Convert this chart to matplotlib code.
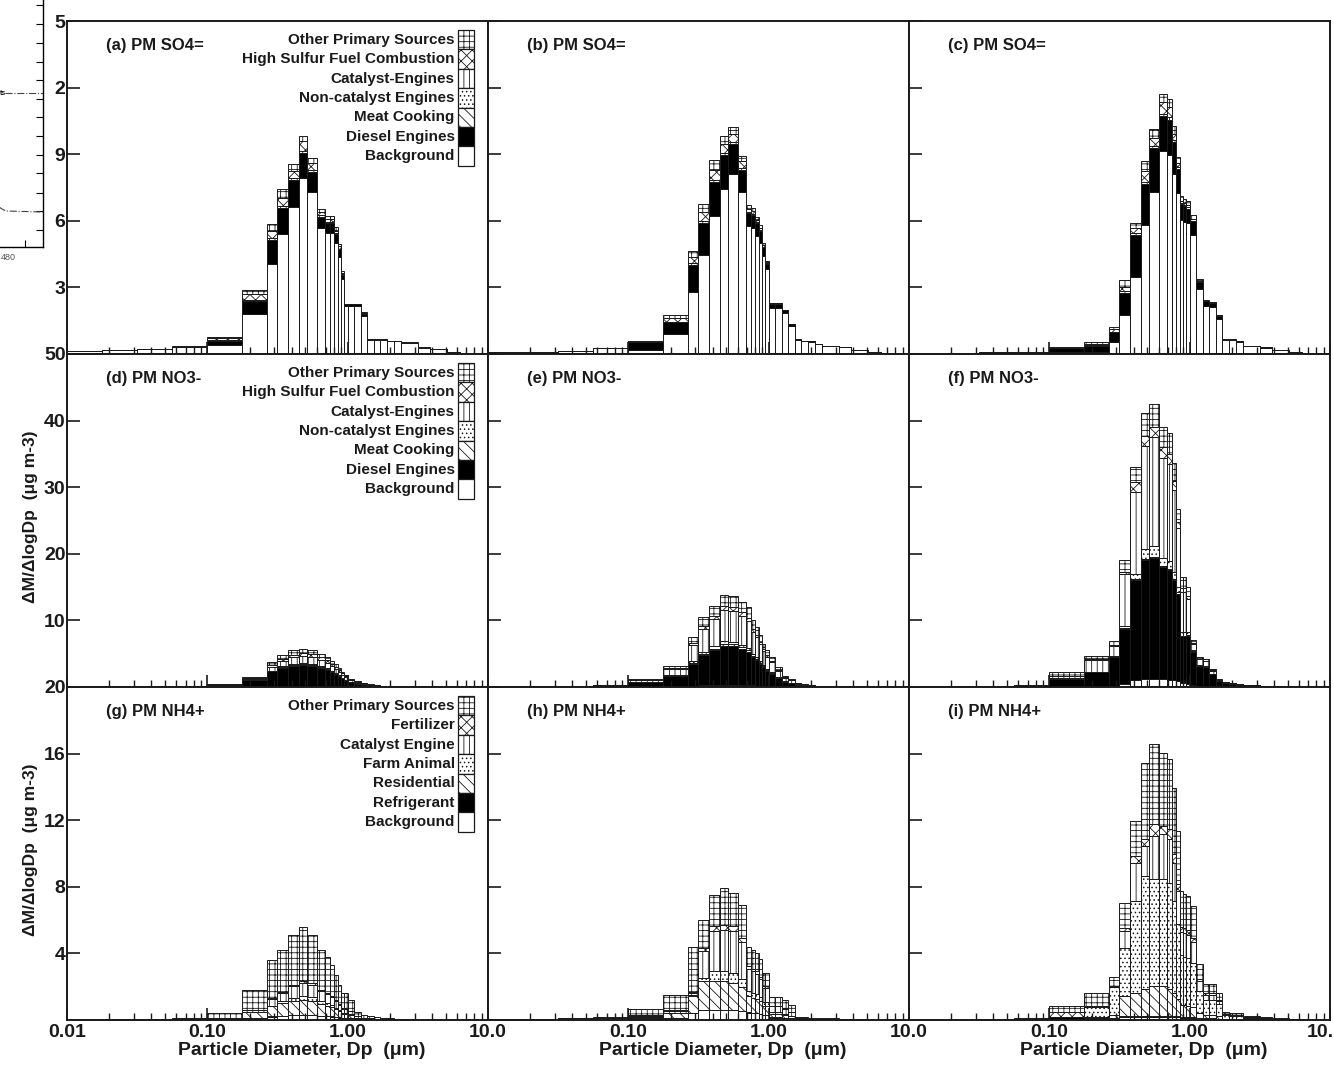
import numpy as np
import matplotlib
matplotlib.use("Agg")
import matplotlib.pyplot as plt
from matplotlib.patches import Rectangle
from matplotlib.ticker import FixedLocator, LogLocator, NullFormatter

plt.rcParams['font.family'] = ['Liberation Sans', 'DejaVu Sans']
plt.rcParams['font.weight'] = 'bold'
plt.rcParams['hatch.linewidth'] = 0.6
INK = '#1a1a1a'

# size-section edges (um)
edges = [0.01, 0.0178, 0.0316, 0.0562, 0.1, 0.178, 0.266, 0.316, 0.376, 0.447, 0.513,
         0.603, 0.692, 0.75, 0.80, 0.85, 0.90, 0.944, 1.01, 1.11, 1.24, 1.38, 1.55,
         1.70, 1.91, 2.14, 2.40, 3.16, 3.89, 5.13, 6.31, 10.0]

# ---- (a) PM SO4=
a_bg = [0.15,0.20,0.22,0.30,0.42,1.80,4.06,5.42,6.61,7.94,7.30,5.67,5.45,5.45,5.00,4.37,3.36,2.16,2.16,2.16,1.72,0.63,0.63,0.63,0.57,0.57,0.50,0.29,0.21,0.07,0.03]
a_diesel = [0,0,0,0.03,0.18,0.60,1.06,1.15,1.23,1.12,0.90,0.52,0.45,0.45,0.40,0.35,0.22,0.08,0.08,0.08,0.10,0.02,0.02,0.02,0.01,0.01,0.01,0,0,0,0]
a_catalyst = [0,0,0,0,0.03,0.05,0.10,0.10,0.10,0.10,0.10,0.05,0.05,0.05,0.04,0.03,0.02,0.01,0.01,0.01,0.01,0,0,0,0,0,0,0,0,0,0]
a_hsf = [0,0,0,0,0.08,0.25,0.33,0.37,0.29,0.42,0.30,0.15,0.15,0.15,0.12,0.10,0.06,0.01,0.01,0.01,0.02,0.01,0.01,0.01,0,0,0,0,0,0,0]
a_other = [0,0,0,0.02,0.07,0.18,0.32,0.39,0.35,0.23,0.25,0.15,0.12,0.12,0.14,0.11,0.07,0.01,0.01,0.01,0.02,0.01,0.01,0.01,0.02,0.02,0.01,0.01,0.01,0,0]

# ---- (b) PM SO4=
b_bg = [0.08,0.10,0.14,0.25,0.20,0.90,2.79,4.45,6.22,7.43,8.09,7.28,5.78,5.67,5.30,5.00,4.40,3.85,2.06,2.06,1.85,1.28,0.63,0.57,0.55,0.44,0.36,0.30,0.20,0.10,0.04]
b_diesel = [0,0,0.01,0.02,0.33,0.52,1.20,1.45,1.54,1.53,1.39,1.03,0.56,0.60,0.60,0.55,0.40,0.22,0.20,0.20,0.12,0.07,0.03,0.02,0.02,0.01,0.01,0,0,0,0]
b_catalyst = [0,0,0,0,0.01,0.04,0.09,0.09,0.09,0.09,0.09,0.09,0.05,0.05,0.04,0.04,0.03,0.02,0.01,0.01,0.01,0,0,0,0,0,0,0,0,0,0]
b_hsf = [0,0,0,0,0.01,0.14,0.30,0.40,0.45,0.40,0.35,0.30,0.12,0.10,0.09,0.08,0.06,0.04,0.02,0.02,0.01,0.01,0,0,0,0,0,0,0,0,0]
b_other = [0,0,0,0,0.02,0.14,0.28,0.35,0.42,0.36,0.29,0.22,0.20,0.17,0.15,0.14,0.10,0.05,0.02,0.02,0.01,0.01,0.01,0.01,0,0,0,0,0,0,0]

# ---- (c) PM SO4=
c_bg = [0.05,0.05,0.06,0.08,0.07,0.10,0.52,1.76,3.46,5.82,7.28,9.13,8.96,8.13,7.24,6.04,5.95,5.90,5.37,2.91,2.16,2.10,1.57,0.62,0.62,0.56,0.35,0.29,0.20,0.10,0.05]
c_diesel = [0,0,0.01,0.02,0.20,0.27,0.45,1.00,1.90,1.85,2.00,1.60,1.60,1.40,1.10,0.70,0.70,0.65,0.60,0.35,0.22,0.20,0.15,0.03,0.03,0.02,0.01,0.01,0,0,0]
c_catalyst = [0,0,0,0,0,0.02,0.04,0.08,0.07,0.09,0.10,0.10,0.10,0.10,0.08,0.05,0.05,0.05,0.04,0.02,0.01,0.01,0.01,0,0,0,0,0,0,0,0]
c_hsf = [0,0,0,0,0.01,0.05,0.10,0.20,0.25,0.50,0.35,0.50,0.45,0.30,0.20,0.10,0.09,0.09,0.08,0.03,0.01,0.01,0.01,0,0,0,0,0,0,0,0]
c_other = [0,0,0,0,0.02,0.08,0.10,0.30,0.20,0.45,0.40,0.40,0.37,0.32,0.24,0.22,0.20,0.20,0.17,0.05,0.03,0.02,0.02,0.02,0.02,0.02,0.01,0,0,0,0]

# ---- (d) PM NO3-
d_bg = [0.01,0.01,0.01,0.02,0.05,0.10,0.15,0.20,0.20,0.20,0.20,0.20,0.18,0.16,0.14,0.12,0.10,0.08,0.05,0.04,0.03,0.02,0.02,0.01,0.01,0.01,0,0,0,0,0]
d_diesel = [0.01,0.02,0.03,0.06,0.30,0.90,2.20,2.70,3.00,3.10,3.00,2.70,2.40,2.10,1.80,1.50,1.20,0.95,0.65,0.45,0.30,0.20,0.15,0.10,0.08,0.05,0.04,0.03,0.02,0.01,0.01]
d_meat = [0,0,0,0,0.01,0.02,0.05,0.08,0.10,0.10,0.10,0.10,0.08,0.07,0.06,0.05,0.04,0.03,0.02,0.02,0.01,0,0,0,0,0,0,0,0,0,0]
d_noncat = [0,0,0,0,0.01,0.02,0.05,0.12,0.15,0.18,0.18,0.16,0.14,0.12,0.10,0.08,0.07,0.05,0.04,0.03,0.02,0.01,0,0,0,0,0,0,0,0,0]
d_catalyst = [0,0,0,0.01,0.05,0.20,0.60,0.80,1.00,1.05,1.05,0.95,0.85,0.75,0.65,0.55,0.45,0.35,0.23,0.18,0.12,0.08,0.06,0.04,0.03,0.02,0.02,0.01,0,0,0]
d_hsf = [0,0,0,0,0.03,0.10,0.30,0.35,0.40,0.42,0.42,0.37,0.33,0.30,0.25,0.20,0.17,0.13,0.09,0.07,0.05,0.03,0.02,0.02,0.01,0,0,0,0,0,0]
d_other = [0,0,0.01,0.01,0.05,0.20,0.45,0.55,0.65,0.65,0.65,0.55,0.50,0.45,0.40,0.33,0.28,0.22,0.15,0.10,0.07,0.05,0.04,0.03,0.02,0.02,0.01,0.01,0.01,0,0]

# ---- (e) PM NO3-
e_bg = [0.01,0.02,0.02,0.03,0.05,0.10,0.20,0.25,0.30,0.30,0.30,0.30,0.28,0.25,0.22,0.20,0.17,0.15,0.12,0.08,0.05,0.03,0.02,0.01,0.01,0.01,0,0,0,0,0]
e_diesel = [0.03,0.06,0.09,0.20,0.70,1.60,3.30,4.50,5.20,5.90,5.80,5.40,5.00,4.20,3.80,3.30,2.80,2.30,1.90,1.25,0.70,0.50,0.25,0.17,0.12,0.08,0.06,0.04,0.03,0.02,0.01]
e_meat = [0,0,0,0,0.02,0.05,0.15,0.20,0.25,0.30,0.30,0.28,0.25,0.20,0.18,0.15,0.13,0.10,0.08,0.05,0.03,0.02,0.01,0.01,0,0,0,0,0,0,0]
e_noncat = [0,0,0,0,0.03,0.08,0.20,0.30,0.35,0.40,0.40,0.38,0.35,0.30,0.27,0.23,0.20,0.16,0.13,0.09,0.05,0.04,0.02,0.01,0.01,0,0,0,0,0,0]
e_catalyst = [0.01,0.01,0.02,0.04,0.20,0.80,2.40,3.50,4.10,4.60,4.60,4.30,4.00,3.30,3.00,2.60,2.15,1.80,1.50,1.00,0.55,0.40,0.20,0.13,0.10,0.06,0.05,0.03,0.02,0.01,0.01]
e_hsf = [0,0,0.01,0.01,0.05,0.15,0.35,0.45,0.50,0.60,0.60,0.55,0.50,0.45,0.40,0.35,0.30,0.25,0.20,0.13,0.07,0.05,0.03,0.02,0.01,0.01,0.01,0,0,0,0]
e_other = [0,0.01,0.03,0.02,0.15,0.42,0.90,1.30,1.50,1.70,1.70,1.59,1.62,1.30,1.13,0.97,0.75,0.74,0.57,0.40,0.25,0.16,0.07,0.05,0.05,0.04,0.03,0.03,0.01,0,0]

# ---- (f) PM NO3-
f_bg = [0.02,0.02,0.03,0.05,0.05,0.10,0.20,0.40,1.00,1.20,1.20,1.20,1.10,1.00,0.90,0.60,0.60,0.50,0.30,0.20,0.20,0.10,0.05,0.03,0.02,0.02,0.01,0.01,0,0,0]
f_diesel = [0.05,0.08,0.10,0.15,1.20,2.10,4.25,8.30,15.00,17.80,18.10,16.80,16.40,15.00,13.10,7.00,7.00,7.20,5.00,3.00,2.80,1.80,0.80,0.55,0.42,0.35,0.22,0.15,0.11,0.07,0.04]
f_meat = [0,0,0,0,0.02,0.05,0.10,0.10,0.20,0.20,0.20,0.20,0.20,0.20,0.20,0.10,0.10,0.10,0.05,0.03,0.03,0.02,0.01,0,0,0,0,0,0,0,0]
f_noncat = [0,0,0,0,0.03,0.05,0.10,0.30,0.75,1.50,1.70,1.20,1.20,1.00,0.80,0.50,0.50,0.40,0.15,0.10,0.10,0.05,0.02,0.02,0.01,0.01,0,0,0,0,0]
f_catalyst = [0.01,0.02,0.03,0.05,0.30,1.75,1.50,7.90,12.30,15.50,16.30,15.00,14.60,12.40,8.80,6.00,6.00,5.00,1.00,0.80,0.70,0.50,0.20,0.12,0.10,0.08,0.05,0.03,0.03,0.02,0.01]
f_hsf = [0,0,0,0,0.10,0.10,0.20,0.30,1.50,1.50,1.50,1.60,1.50,1.30,1.00,0.60,0.60,0.50,0.10,0.07,0.07,0.03,0.02,0.01,0.01,0.01,0,0,0,0,0]
f_other = [0.01,0.02,0.03,0.05,0.60,0.55,0.60,1.70,2.25,3.50,3.50,3.00,3.20,2.80,1.90,1.65,1.65,1.30,0.40,0.30,0.30,0.20,0.10,0.07,0.04,0.03,0.02,0.01,0.01,0.01,0]

# ---- (g) PM NH4+
g_bg = [0.01,0.02,0.03,0.04,0.03,0.10,0.20,0.25,0.30,0.30,0.30,0.25,0.25,0.20,0.18,0.15,0.12,0.12,0.10,0.04,0.03,0.02,0.02,0.01,0.01,0.01,0,0,0,0,0]
g_refrig = [0,0,0,0,0.05,0.02,0.02,0.02,0.02,0.02,0.02,0.02,0.02,0.02,0.02,0.02,0.01,0.01,0.01,0.01,0,0,0,0,0,0,0,0,0,0,0]
g_resid = [0,0,0,0,0.02,0.35,0.60,0.75,0.85,0.90,0.85,0.70,0.60,0.55,0.45,0.35,0.25,0.25,0.20,0.08,0.05,0.03,0.02,0.02,0.01,0.01,0,0,0,0,0]
g_farm = [0,0,0,0,0,0.02,0.05,0.10,0.15,0.20,0.20,0.15,0.15,0.12,0.10,0.08,0.06,0.06,0.04,0.02,0.01,0.01,0,0,0,0,0,0,0,0,0]
g_catalyst = [0,0,0,0,0.02,0.10,0.40,0.50,0.70,0.80,0.75,0.60,0.55,0.50,0.40,0.30,0.25,0.25,0.20,0.08,0.05,0.04,0.03,0.02,0.02,0.01,0.01,0,0,0,0]
g_fert = [0,0,0,0,0,0.01,0.05,0.08,0.10,0.12,0.10,0.08,0.08,0.07,0.05,0.04,0.03,0.03,0.02,0.01,0,0,0,0,0,0,0,0,0,0,0]
g_other = [0.01,0.03,0.05,0.08,0.28,1.20,2.28,2.50,2.98,3.26,2.88,2.40,2.15,1.84,1.50,1.16,0.88,0.88,0.63,0.26,0.16,0.15,0.13,0.10,0.06,0.05,0.04,0.03,0.02,0.01,0.01]

# ---- (h) PM NH4+
h_bg = [0.03,0.05,0.10,0.12,0.05,0.10,0.40,0.60,0.60,0.60,0.60,0.55,0.45,0.40,0.40,0.35,0.30,0.30,0.15,0.15,0.12,0.10,0.03,0.03,0.02,0.02,0.02,0.01,0.01,0,0]
h_refrig = [0.01,0.01,0.02,0.03,0.10,0.05,0.02,0.02,0.02,0.02,0.02,0.02,0.02,0.02,0.02,0.02,0.02,0.02,0.02,0.02,0.02,0.02,0.02,0.02,0.01,0.01,0.01,0.01,0.01,0.01,0]
h_resid = [0,0,0,0,0.05,0.25,1.00,1.70,1.70,1.70,1.60,1.40,1.00,0.90,0.85,0.75,0.55,0.55,0.20,0.20,0.15,0.10,0.03,0.03,0.02,0.02,0.01,0.01,0,0,0]
h_farm = [0,0,0,0,0.02,0.05,0.10,0.20,0.60,0.60,0.60,0.50,0.30,0.30,0.30,0.25,0.20,0.20,0.10,0.10,0.08,0.05,0.01,0.01,0.01,0,0,0,0,0,0]
h_catalyst = [0,0,0,0,0.04,0.10,0.10,1.60,2.40,2.50,2.50,2.20,1.30,1.30,1.20,1.10,0.85,0.85,0.35,0.35,0.30,0.20,0.03,0.03,0.02,0.02,0.01,0.01,0.01,0,0]
h_fert = [0,0,0,0,0.02,0.05,0.05,0.20,0.30,0.30,0.30,0.25,0.15,0.15,0.15,0.13,0.10,0.10,0.05,0.05,0.04,0.03,0,0,0,0,0,0,0,0,0]
h_other = [0.01,0.02,0.03,0.05,0.38,0.90,2.71,1.68,1.88,2.18,1.98,1.98,1.18,1.13,1.08,1.05,0.83,0.83,0.50,0.50,0.49,0.38,0.08,0.08,0.07,0.05,0.05,0.02,0.01,0.01,0.01]

# ---- (i) PM NH4+
i_bg = [0.01,0.01,0.03,0.03,0.02,0.05,0.05,0.20,0.20,0.20,0.20,0.20,0.20,0.20,0.20,0.15,0.15,0.15,0.15,0.10,0.08,0.08,0.05,0.02,0.02,0.02,0.01,0.01,0.01,0,0]
i_refrig = [0.01,0.02,0.04,0.05,0.18,0.10,0.05,0.05,0.05,0.05,0.05,0.05,0.05,0.05,0.05,0.05,0.05,0.05,0.05,0.05,0.05,0.05,0.04,0.03,0.03,0.03,0.02,0.02,0.01,0.01,0.01]
i_resid = [0,0,0,0,0,0.05,0.20,1.20,1.40,1.60,1.80,1.80,1.60,1.40,1.00,0.70,0.70,0.65,0.60,0.30,0.20,0.20,0.15,0.04,0.04,0.04,0.02,0.01,0.01,0,0]
i_farm = [0,0,0,0,0,0.60,1.70,2.90,5.50,6.80,6.40,6.40,6.40,5.50,4.50,3.00,2.90,2.90,2.60,1.30,0.90,0.90,0.70,0.20,0.18,0.18,0.10,0.07,0.05,0.02,0.01]
i_catalyst = [0,0,0,0,0,0,0,1.00,2.30,1.80,2.60,2.70,2.60,2.30,2.00,1.40,1.40,1.35,1.30,0.60,0.30,0.30,0.20,0.05,0.05,0.04,0.02,0.02,0.01,0.01,0]
i_fert = [0,0,0,0,0.30,0.05,0.05,0.15,0.40,0.40,0.70,0.50,0.60,0.50,0.40,0.30,0.30,0.30,0.25,0.10,0.07,0.07,0.05,0.01,0.01,0.01,0,0,0,0,0]
i_other = [0,0,0.01,0.02,0.34,0.80,0.55,1.50,2.10,4.60,4.80,4.40,4.20,4.00,3.20,2.15,2.05,2.05,1.90,0.90,0.55,0.55,0.45,0.12,0.10,0.10,0.05,0.04,0.02,0.02,0.01]

# legend entries, top to bottom
labels_so4 = ['Other Primary Sources', 'High Sulfur Fuel Combustion', 'Catalyst-Engines',
              'Non-catalyst Engines', 'Meat Cooking', 'Diesel Engines', 'Background']
labels_no3 = labels_so4
labels_nh4 = ['Other Primary Sources', 'Fertilizer', 'Catalyst Engine', 'Farm Animal',
              'Residential', 'Refrigerant', 'Background']

titles = ['(a) PM SO4=', '(b) PM SO4=', '(c) PM SO4=',
          '(d) PM NO3-', '(e) PM NO3-', '(f) PM NO3-',
          '(g) PM NH4+', '(h) PM NH4+', '(i) PM NH4+']

ylims = [15, 50, 20]
yticks = [[3, 6, 9, 12, 15], [10, 20, 30, 40, 50], [4, 8, 12, 16, 20]]
yticklabels = [['3', '6', '9', '2', '5'], ['10', '20', '30', '40', '50'], ['4', '8', '12', '16', '20']]

# fill styles (face, hatch)
STY = {
    'white': ('white', ''),
    'black': ('black', ''),
    'diag': ('white', '\\\\\\'),
    'dots': ('white', '....'),
    'vert': ('white', '|||'),
    'chev': ('white', 'xxx'),
    'grid': ('white', '+++'),
}
legend_styles = ['grid', 'chev', 'vert', 'dots', 'diag', 'black', 'white']

panels = [
    [(a_bg, 'white'), (a_diesel, 'black'), (a_catalyst, 'vert'), (a_hsf, 'chev'), (a_other, 'grid')],
    [(b_bg, 'white'), (b_diesel, 'black'), (b_catalyst, 'vert'), (b_hsf, 'chev'), (b_other, 'grid')],
    [(c_bg, 'white'), (c_diesel, 'black'), (c_catalyst, 'vert'), (c_hsf, 'chev'), (c_other, 'grid')],
    [(d_bg, 'white'), (d_diesel, 'black'), (d_meat, 'diag'), (d_noncat, 'dots'), (d_catalyst, 'vert'), (d_hsf, 'chev'), (d_other, 'grid')],
    [(e_bg, 'white'), (e_diesel, 'black'), (e_meat, 'diag'), (e_noncat, 'dots'), (e_catalyst, 'vert'), (e_hsf, 'chev'), (e_other, 'grid')],
    [(f_bg, 'white'), (f_diesel, 'black'), (f_meat, 'diag'), (f_noncat, 'dots'), (f_catalyst, 'vert'), (f_hsf, 'chev'), (f_other, 'grid')],
    [(g_bg, 'white'), (g_refrig, 'black'), (g_resid, 'diag'), (g_farm, 'dots'), (g_catalyst, 'vert'), (g_fert, 'chev'), (g_other, 'grid')],
    [(h_bg, 'white'), (h_refrig, 'black'), (h_resid, 'diag'), (h_farm, 'dots'), (h_catalyst, 'vert'), (h_fert, 'chev'), (h_other, 'grid')],
    [(i_bg, 'white'), (i_refrig, 'black'), (i_resid, 'diag'), (i_farm, 'dots'), (i_catalyst, 'vert'), (i_fert, 'chev'), (i_other, 'grid')],
]

W, H = 1334, 1065
fig = plt.figure(figsize=(W / 100, H / 100), dpi=100)
fig.patch.set_facecolor('white')

col_x = [67, 488, 909]
row_y = [21, 354, 687]
pw, ph = 421, 333

left = np.array(edges[:-1])
widths = np.diff(edges)


def draw_legend(ax, labels):
    top, rowh = 0.973, 0.0583
    for i, lab in enumerate(labels):
        face, hatch = STY[legend_styles[i]]
        y0 = top - (i + 1) * rowh
        ax.add_patch(Rectangle((0.929, y0), 0.038, rowh, transform=ax.transAxes,
                               facecolor=face, hatch=hatch, edgecolor=INK, lw=0.9, zorder=5))
        ax.text(0.921, y0 + rowh / 2, lab, transform=ax.transAxes, ha='right', va='center',
                fontsize=11, fontweight='bold', color=INK)


for k in range(9):
    r, c = divmod(k, 3)
    ax = fig.add_axes([col_x[c] / W, 1 - (row_y[r] + ph) / H, pw / W, ph / H])
    ax.set_xscale('log')
    ax.set_xlim(0.01, 10)
    ax.set_ylim(0, ylims[r])

    bottom = np.zeros(len(left))
    for vals, sty in panels[k]:
        v = np.array(vals, dtype=float)
        face, hatch = STY[sty]
        ax.bar(left, v, width=widths, bottom=bottom, align='edge', facecolor=face,
               edgecolor=INK, hatch=hatch, linewidth=0.7)
        bottom += v

    for sp in ax.spines.values():
        sp.set_linewidth(1.4)
        sp.set_color(INK)

    ax.xaxis.set_major_locator(FixedLocator([0.01, 0.1, 1, 10]))
    ax.xaxis.set_minor_locator(LogLocator(base=10, subs=np.arange(2, 10)))
    ax.xaxis.set_minor_formatter(NullFormatter())
    ax.tick_params(axis='x', which='major', direction='in', length=9, width=1.2, color=INK)
    ax.tick_params(axis='x', which='minor', direction='in', length=5, width=1.0, color=INK)
    ax.set_yticks(yticks[r])
    ax.tick_params(axis='y', which='major', direction='in', length=9, width=1.2, color=INK, pad=1)
    ax.yaxis.set_minor_locator(FixedLocator([]))

    if c == 0:
        ax.set_yticklabels(yticklabels[r], fontsize=14, fontweight='bold', color=INK)
    else:
        ax.set_yticklabels([])

    if r == 2:
        if c == 0:
            ax.set_xticklabels(['0.01', '0.10', '1.00', '10.0'])
        elif c == 1:
            ax.set_xticklabels(['', '0.10', '1.00', '10.0'])
        else:
            # the scan cuts the last label at the page edge
            ax.set_xticklabels(['', '0.10', '1.00', ''])
            ax.text(1.0 + 4 / pw, -0.012, '10.', transform=ax.transAxes, ha='right', va='top',
                    fontsize=14, fontweight='bold', color=INK)
        for t in ax.get_xticklabels():
            t.set_fontsize(14)
            t.set_fontweight('bold')
            t.set_color(INK)
        ax.tick_params(axis='x', which='major', pad=3)
        ax.set_xlabel('Particle Diameter, Dp  (\u03bcm)', fontsize=14, fontweight='bold', color=INK)
        ax.xaxis.set_label_coords(0.558, -0.067)
    else:
        ax.set_xticklabels([])

    ax.text(0.093, 0.95, titles[k], transform=ax.transAxes, ha='left', va='top',
            fontsize=12, fontweight='bold', color=INK)

    if c == 0:
        draw_legend(ax, [labels_so4, labels_no3, labels_nh4][r])

for r in [1, 2]:
    fig.text(30 / W, 1 - (row_y[r] + ph / 2 - 4) / H, '\u0394M/\u0394logDp  (\u03bcg m-3)',
             rotation=90, ha='center', va='center', fontsize=12.5, fontweight='bold', color=INK)

# fragment of a neighbouring figure at the top-left corner of the scan
frag_ticks_y = [242, 223, 204, 185, 167, 148, 130, 111, 92, 74, 54, 36, 17]
frag_line1_x = [5, 43]
frag_line1_y = [154, 154]
frag_line2_x = [-1, 2, 6, 43]
frag_line2_y = [40, 38, 36, 35]
fx = fig.add_axes([-67 / W, 1 - 247 / H, 110 / W, 267 / H])
fx.set_xlim(-67, 43)
fx.set_ylim(0, 267)
fx.patch.set_alpha(0)
fx.spines['top'].set_visible(False)
fx.spines['left'].set_visible(False)
fx.spines['right'].set_linewidth(1.0)
fx.spines['bottom'].set_linewidth(1.0)
fx.yaxis.tick_right()
fx.set_yticks(frag_ticks_y)
fx.set_yticklabels([])
fx.tick_params(axis='y', direction='in', length=5, width=0.8)
fx.set_xticks([25])
fx.set_xticklabels([''])
fx.tick_params(axis='x', direction='in', length=5, width=0.8)
fx.plot(frag_line1_x, frag_line1_y, ls='-.', lw=0.8, color='#444444')
fx.plot(frag_line2_x, frag_line2_y, ls='-.', lw=0.8, color='#444444')
fx.text(3, 154, 'ts', ha='center', va='center', fontsize=5, fontweight='bold', color=INK)
fig.text(8 / W, 1 - 258 / H, '480', ha='center', va='center', fontsize=6.5,
         fontweight='normal', color='#555555')

fig.savefig('out.png', dpi=100, facecolor='white')
